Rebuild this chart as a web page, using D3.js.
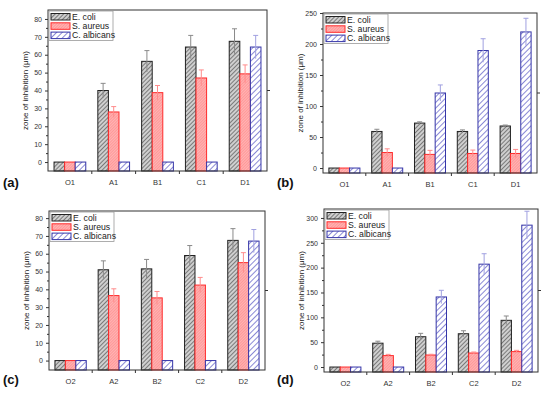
<!DOCTYPE html>
<html>
<head>
<meta charset="utf-8">
<script src="https://cdn.jsdelivr.net/npm/d3@7"></script>
<style>
  body { margin: 0; background: #fff; }
  svg { display: block; }
  text { font-family: "Liberation Sans", Arial, sans-serif; }
</style>
</head>
<body>
<svg id="chart" width="550" height="394"></svg>
<script>
// series + categories
var seriesNames = ["E. coli", "S. aureus", "C. albicans"];
var catsTop = ["O1", "A1", "B1", "C1", "D1"];
var catsBottom = ["O2", "A2", "B2", "C2", "D2"];

// panel (a)
var meansA = [[0, 40, 56.3, 64.3, 67.5], [0, 28, 38.8, 47, 49.3], [0, 0, 0, 0, 64.3]];
var errsA = [[0, 4, 6, 6.5, 7], [0, 3, 4, 4.5, 5], [0, 0, 0, 0, 6.5]];
var ticksA = [0, 10, 20, 30, 40, 50, 60, 70, 80];
// panel (b)
var meansB = [[0, 59, 72.5, 59, 67.8], [0, 25, 22, 23.5, 23.5], [0, 0, 121, 189.5, 219.5]];
var errsB = [[0, 3.5, 2, 2.5, 1.5], [0, 6, 6.5, 5.5, 6.5], [0, 0, 13, 19, 22]];
var ticksB = [0, 50, 100, 150, 200, 250];
// panel (c)
var meansC = [[0, 51, 51.5, 59, 67.5], [0, 36.5, 35.2, 42.4, 55], [0, 0, 0, 0, 67.1]];
var errsC = [[0, 5, 5.3, 5.6, 6.6], [0, 3.8, 3.6, 4.3, 5.6], [0, 0, 0, 0, 6.5]];
var ticksC = [0, 10, 20, 30, 40, 50, 60, 70, 80];
// panel (d)
var meansD = [[0, 48, 61, 67, 94], [0, 23, 24.2, 28.2, 31], [0, 0, 141, 207, 285.5]];
var errsD = [[0, 4, 6.8, 6, 8.7], [0, 2.5, 1.5, 2, 2.6], [0, 0, 13.4, 21, 28]];
var ticksD = [0, 50, 100, 150, 200, 250, 300];

var svg = d3.select("#chart");
var defs = svg.append("defs");

/* hatch patterns */
function hatch(id, bg, line, gap, lw) {
  var p = defs.append("pattern")
    .attr("id", id)
    .attr("patternUnits", "userSpaceOnUse")
    .attr("width", gap).attr("height", gap)
    .attr("patternTransform", "rotate(45)");
  p.append("rect").attr("width", gap).attr("height", gap).attr("fill", bg);
  p.append("line").attr("x1", 0).attr("y1", 0).attr("x2", 0).attr("y2", gap)
    .attr("stroke", line).attr("stroke-width", lw);
}
hatch("hEcoli", "#cfcfcf", "#333", 3, 1.1);
hatch("hSaur", "#ffb4b4", "#ff6e6e", 2, 0.8);
hatch("hCalb", "#ffffff", "#4a4ac0", 4, 1.3);

var fills = ["url(#hEcoli)", "url(#hSaur)", "url(#hCalb)"];
var strokes = ["#222", "#ff2a2a", "#3535a8"];
var errColors = ["#8a8a8a", "#ff8c8c", "#a0a0e0"];

function drawPanel(opt) {
  var x0 = d3.scaleBand().domain(opt.cats).range([opt.left, opt.right]).padding(0);
  var x1 = d3.scaleBand().domain(d3.range(3)).range([0, x0.bandwidth()]).paddingOuter(0.57).paddingInner(0);
  var y = d3.scaleLinear().domain(opt.domain).range([opt.bottom, opt.top]);
  var g = svg.append("g");

  // bars (drawn up from the bottom of the axis, like Origin)
  opt.means.forEach(function(vals, s) {
    g.selectAll(".bar" + s)
      .data(vals)
      .enter()
      .append("rect")
      .attr("x", function(d, i) { return x0(opt.cats[i]) + x1(s); })
      .attr("width", x1.bandwidth())
      .attr("y", function(d) { return y(d); })
      .attr("height", function(d) { return y(opt.domain[0]) - y(d); })
      .attr("fill", fills[s])
      .attr("stroke", strokes[s])
      .attr("stroke-width", 1);
  });

  // error bars
  opt.means.forEach(function(vals, s) {
    vals.forEach(function(v, i) {
      var e = opt.errs[s][i];
      if (!e) return;
      var cx = x0(opt.cats[i]) + x1(s) + x1.bandwidth() / 2;
      g.append("line").attr("x1", cx).attr("x2", cx)
        .attr("y1", y(v + e)).attr("y2", y(v - e))
        .attr("stroke", errColors[s]).attr("stroke-width", 1);
      g.append("line").attr("x1", cx - 2.5).attr("x2", cx + 2.5)
        .attr("y1", y(v + e)).attr("y2", y(v + e))
        .attr("stroke", errColors[s]).attr("stroke-width", 1);
    });
  });

  // frame
  g.append("rect")
    .attr("x", opt.left).attr("y", opt.top)
    .attr("width", opt.right - opt.left).attr("height", opt.bottom - opt.top)
    .attr("fill", "none").attr("stroke", "#333").attr("stroke-width", 1);
  // stray tick on right
  g.append("line").attr("x1", opt.right).attr("x2", opt.right + 3)
    .attr("y1", (opt.top + opt.bottom) / 2).attr("y2", (opt.top + opt.bottom) / 2)
    .attr("stroke", "#333");

  // y axis
  var step = opt.ticks[1] - opt.ticks[0];
  var minor = opt.ticks.map(function(t) { return t + step / 2; })
    .filter(function(t) { return t < opt.domain[1]; });
  g.append("g")
    .attr("transform", "translate(" + opt.left + ",0)")
    .call(d3.axisLeft(y).tickValues(minor).tickSize(2).tickFormat(""))
    .call(function(a) { a.select(".domain").remove(); a.selectAll("line").attr("stroke", "#333"); });
  g.append("g")
    .attr("transform", "translate(" + opt.left + ",0)")
    .call(d3.axisLeft(y).tickValues(opt.ticks).tickSize(3).tickPadding(3))
    .call(function(a) {
      a.select(".domain").remove();
      a.selectAll("line").attr("stroke", "#333");
      a.selectAll("text").attr("font-size", 7).attr("fill", "#333")
        .attr("font-family", "Liberation Sans, Arial, sans-serif");
    });

  // x axis: ticks between groups
  var bounds = opt.cats.slice(1).map(function(c) { return x0(c); });
  bounds.forEach(function(bx) {
    g.append("line").attr("x1", bx).attr("x2", bx)
      .attr("y1", opt.bottom).attr("y2", opt.bottom + 3).attr("stroke", "#333");
  });
  g.selectAll(".xl")
    .data(opt.cats)
    .enter()
    .append("text")
    .attr("x", function(d) { return x0(d) + x0.bandwidth() / 2; })
    .attr("y", opt.bottom + 14)
    .attr("text-anchor", "middle")
    .attr("font-size", 7.5)
    .attr("fill", "#333")
    .text(function(d) { return d; });

  // y title
  g.append("text")
    .attr("transform", "translate(" + (opt.left - 20) + "," + ((opt.top + opt.bottom) / 2) + ") rotate(-90)")
    .attr("text-anchor", "middle")
    .attr("font-size", 8)
    .attr("fill", "#222")
    .text("zone of inhibition (\u03bcm)");

  // legend
  var lg = g.append("g").attr("transform", "translate(" + (opt.left + 1) + "," + (opt.top + 1) + ")");
  lg.append("rect").attr("width", 64).attr("height", 29.5)
    .attr("fill", "#fff").attr("stroke", "#999").attr("stroke-width", 0.8);
  seriesNames.forEach(function(n, s) {
    lg.append("rect").attr("x", 2).attr("y", 2.5 + s * 9.3).attr("width", 19).attr("height", 6.5)
      .attr("fill", fills[s]).attr("stroke", strokes[s]).attr("stroke-width", 1);
    lg.append("text").attr("x", 23).attr("y", 8.7 + s * 9.3)
      .attr("font-size", 8.7).attr("fill", "#222").text(n);
  });

  // panel letter
  svg.append("text")
    .attr("x", opt.lx).attr("y", opt.ly)
    .attr("font-family", "Liberation Serif, Times New Roman, serif")
    .attr("font-weight", "bold")
    .attr("font-size", 13)
    .attr("fill", "#111")
    .text(opt.label);
}

drawPanel({ cats: catsTop, means: meansA, errs: errsA, ticks: ticksA, domain: [-5, 85],
  left: 48, right: 267, top: 10, bottom: 171, label: "(a)", lx: 3, ly: 187 });
drawPanel({ cats: catsTop, means: meansB, errs: errsB, ticks: ticksB, domain: [-8, 250],
  left: 323, right: 537, top: 13, bottom: 173, label: "(b)", lx: 277, ly: 187 });
drawPanel({ cats: catsBottom, means: meansC, errs: errsC, ticks: ticksC, domain: [-5.3, 84],
  left: 49, right: 265, top: 211, bottom: 370, label: "(c)", lx: 3, ly: 384 });
drawPanel({ cats: catsBottom, means: meansD, errs: errsD, ticks: ticksD, domain: [-10, 318],
  left: 324, right: 538, top: 209, bottom: 372, label: "(d)", lx: 277, ly: 384 });
</script>
</body>
</html>
